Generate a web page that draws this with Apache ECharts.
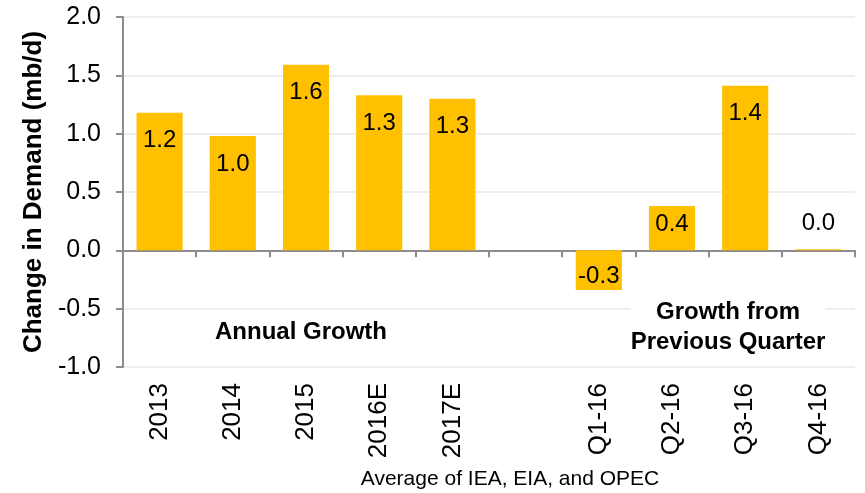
<!DOCTYPE html>
<html>
<head>
<meta charset="utf-8">
<script src="https://cdn.jsdelivr.net/npm/echarts@6/dist/echarts.min.js"></script>
<style>
  html, body { margin: 0; padding: 0; background: #fff; }
  #chart { width: 865px; height: 493px; }
</style>
</head>
<body>
<div id="chart"></div>
<script>
const categories = ["2013", "2014", "2015", "2016E", "2017E", "", "Q1-16", "Q2-16", "Q3-16", "Q4-16"];
const demandGrowth = [1.18, 0.98, 1.59, 1.33, 1.30, null, -0.34, 0.38, 1.41, 0.01];
const yTicks = { min: -1, max: 2, interval: 0.5 };

const FONT = "Liberation Sans, Arial, sans-serif";

function labelFor(value) {
  if (value < 0) return { position: "insideBottom", distance: 2 };
  if (value < 0.1) return { position: "top", distance: 14 };
  if (value < 0.5) return { position: "insideTop", distance: 6 };
  return { position: "insideTop", distance: 16 };
}

function buildBarData(values) {
  return values.map((value) => {
    if (value === null) return null;
    return { value: value, label: labelFor(value) };
  });
}

const chart = echarts.init(document.getElementById("chart"));

chart.setOption({
  animation: false,
  grid: { left: 123, right: 10, top: 17, bottom: 126 },
  xAxis: [
    {
      type: "category",
      data: categories,
      axisLine: { onZero: true, lineStyle: { color: "#8c8c8c", width: 2 } },
      axisTick: { show: true, length: 7, lineStyle: { color: "#8c8c8c", width: 2 } },
      axisLabel: { show: false },
    },
    {
      type: "category",
      data: categories,
      position: "bottom",
      axisLine: { show: false },
      axisTick: { show: false },
      axisLabel: {
        rotate: 90,
        margin: 16,
        color: "#000",
        fontFamily: FONT,
        fontSize: 26,
        interval: 0,
      },
    },
  ],
  yAxis: {
    type: "value",
    min: yTicks.min,
    max: yTicks.max,
    interval: yTicks.interval,
    name: "Change in Demand (mb/d)",
    nameLocation: "middle",
    nameGap: 73,
    nameTextStyle: { color: "#000", fontFamily: FONT, fontSize: 26, fontWeight: "bold" },
    axisLine: { show: true, lineStyle: { color: "#8c8c8c", width: 2 } },
    axisTick: { show: true, length: 7, lineStyle: { color: "#8c8c8c", width: 2 } },
    axisLabel: {
      color: "#000",
      fontFamily: FONT,
      fontSize: 25,
      margin: 22,
      formatter: (v) => v.toFixed(1),
    },
    splitLine: { lineStyle: { color: "#eeeeee", width: 2 } },
  },
  series: [
    {
      type: "bar",
      xAxisIndex: 0,
      data: buildBarData(demandGrowth),
      barWidth: "63%",
      itemStyle: { color: "#ffc000" },
      label: {
        show: true,
        color: "#000",
        fontFamily: FONT,
        fontSize: 24,
        formatter: (p) => p.value.toFixed(1),
      },
    },
  ],
  graphic: [
    {
      type: "text",
      z: 100,
      x: 301,
      y: 332,
      style: {
        text: "Annual Growth",
        fill: "#000",
        font: "bold 24px " + FONT,
        align: "center",
        verticalAlign: "middle",
      },
    },
    {
      type: "text",
      z: 100,
      x: 728,
      y: 327,
      style: {
        text: "Growth from\nPrevious Quarter",
        fill: "#000",
        font: "bold 24px " + FONT,
        lineHeight: 30,
        backgroundColor: "#fff",
        align: "center",
        verticalAlign: "middle",
      },
    },
    {
      type: "text",
      z: 100,
      x: 510,
      y: 479,
      style: {
        text: "Average of IEA, EIA, and OPEC",
        fill: "#000",
        font: "21px " + FONT,
        align: "center",
        verticalAlign: "middle",
      },
    },
  ],
});
</script>
</body>
</html>
